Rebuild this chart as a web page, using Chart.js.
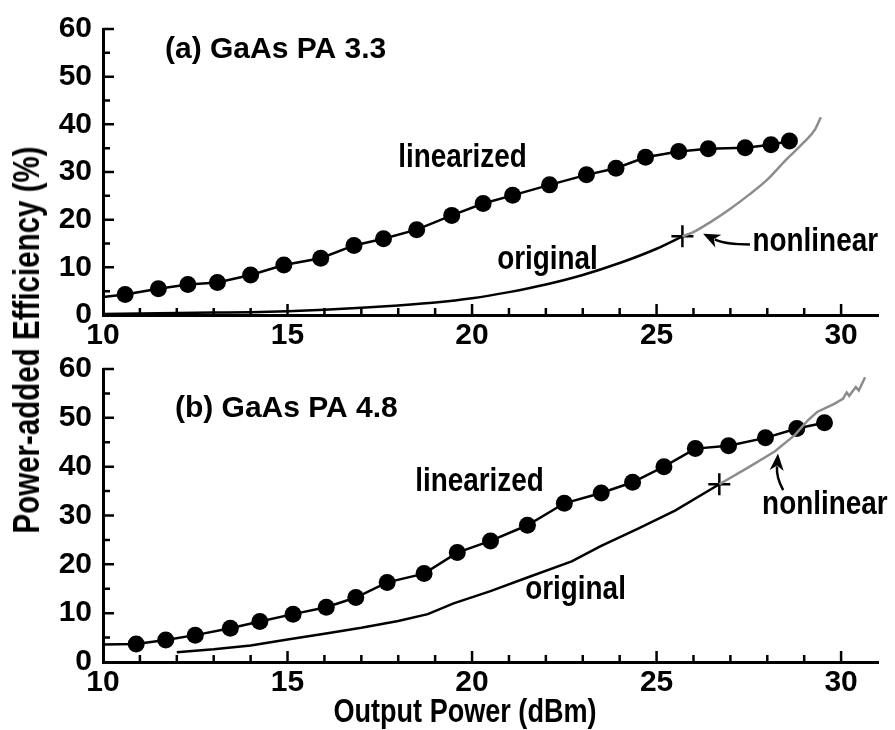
<!DOCTYPE html>
<html>
<head>
<meta charset="utf-8">
<script src="https://cdn.jsdelivr.net/npm/chart.js@4/dist/chart.umd.min.js"></script>
<style>
  body { margin: 0; background: #fff; }
  #wrap { position: relative; width: 895px; height: 730px; overflow: hidden; background: #fff; }
  canvas { position: absolute; left: 0; }
  #chartA { top: 0; }
  #chartB { top: 340px; }
  .axt { position: absolute; white-space: nowrap; color: #000;
         font-family: 'Liberation Sans', Arial, sans-serif; font-weight: bold; }
  /* the original uses a condensed face; squeeze the regular one along the text direction */
  #ytitle { left: 27px; top: 340px; font-size: 36px; line-height: 36px;
            transform: translate(-50%, -50%) rotate(-90deg) scaleX(0.82); }
  #xtitle { left: 465px; top: 694px; font-size: 33px; line-height: 33px;
            transform: translateX(-50%) scaleX(0.82); }
</style>
</head>
<body>
<div id="wrap">
  <canvas id="chartA" width="895" height="360"></canvas>
  <canvas id="chartB" width="895" height="390"></canvas>
  <div class="axt" id="ytitle">Power-added Efficiency (%)</div>
  <div class="axt" id="xtitle">Output Power (dBm)</div>
</div>
<script>
/* ── DATA ── */
// tick labels that carry text
const xLabelled = [10, 15, 20, 25, 30];
const yLabelled = [0, 10, 20, 30, 40, 50, 60];

// (a) GaAs PA 3.3
const aLinX  = [10, 10.6, 11.5, 12.3, 13.1, 14.0, 14.9, 15.9, 16.8, 17.6, 18.5, 19.45, 20.3, 21.1, 22.1, 23.1, 23.9, 24.7, 25.6, 26.4, 27.4, 28.1, 28.6];
const aLinY  = [3.8, 4.3, 5.5, 6.4, 6.8, 8.4, 10.5, 11.9, 14.6, 16.0, 17.9, 20.9, 23.4, 25.1, 27.3, 29.4, 30.8, 33.1, 34.3, 34.9, 35.1, 35.7, 36.5];
const aOrigX = [10, 11, 12, 13, 14, 15, 16, 17, 18, 19, 20, 21, 22, 23, 24, 25, 25.7];
const aOrigY = [0.2, 0.3, 0.4, 0.5, 0.6, 0.8, 1.1, 1.5, 2.0, 2.6, 3.5, 4.8, 6.4, 8.4, 10.9, 13.9, 16.5];
const aNonX  = [25.7, 26.0, 26.5, 27.0, 27.5, 28.0, 28.5, 29.0, 29.3, 29.45];
const aNonY  = [16.5, 17.4, 19.7, 22.3, 25.2, 28.4, 32.5, 36.3, 39.0, 41.5];
const aCross = [25.7, 16.5];

// (b) GaAs PA 4.8
const bLinX  = [10, 10.9, 11.7, 12.5, 13.45, 14.25, 15.15, 16.05, 16.85, 17.7, 18.7, 19.6, 20.5, 21.5, 22.5, 23.5, 24.35, 25.2, 26.05, 26.95, 27.95, 28.8, 29.55];
const bLinY  = [3.6, 3.7, 4.5, 5.5, 6.9, 8.3, 9.8, 11.2, 13.2, 16.3, 18.1, 22.4, 24.8, 28.0, 32.5, 34.6, 36.8, 40.0, 43.7, 44.3, 45.9, 47.8, 49.0];
const bOrigX = [12.0, 13.0, 14.0, 15.0, 16.0, 17.0, 18.0, 18.8, 19.5, 20.5, 21.5, 22.7, 23.5, 24.5, 25.5, 26.7];
const bOrigY = [2.0, 2.6, 3.4, 4.6, 5.8, 7.0, 8.4, 9.8, 12.0, 14.5, 17.3, 20.6, 23.8, 27.3, 31.0, 36.4];
const bNonX  = [26.7, 27.5, 28.2, 28.75, 29.1, 29.35, 29.8, 30.05, 30.15, 30.22, 30.4, 30.48, 30.65];
const bNonY  = [36.4, 39.9, 43.1, 46.5, 49.5, 51.2, 52.8, 53.9, 55.2, 54.5, 56.3, 55.6, 58.3];
const bCross = [26.7, 36.4];

/* ── STYLE ── */
const SANS = "'Liberation Sans', Arial, sans-serif";
const NOTE_FONT  = "bold 34px " + SANS;   // drawn squeezed to 82 %
const TITLE_FONT = "bold 30px " + SANS;
const GRAY = '#8c8c8c';

const pts = (xs, ys) => xs.map((x, i) => ({ x, y: ys[i] }));

/* ticks drawn inward, like the original plot */
const innerTicks = {
  id: 'innerTicks',
  afterDraw(chart) {
    const { ctx, chartArea: a, scales: { x, y } } = chart;
    ctx.save();
    ctx.strokeStyle = '#000';
    ctx.lineWidth = 2.5;
    ctx.beginPath();
    x.ticks.forEach(t => {
      if (t.value === x.min || t.value === x.max) return;
      const px = x.getPixelForValue(t.value);
      const len = t.value % 5 === 0 ? 11 : 7;
      ctx.moveTo(px, a.bottom);
      ctx.lineTo(px, a.bottom - len);
    });
    y.ticks.forEach(t => {
      if (t.value === y.min) return;
      const py = y.getPixelForValue(t.value);
      const len = t.value % 10 === 0 ? 11 : 7;
      ctx.moveTo(a.left, py);
      ctx.lineTo(a.left + len, py);
    });
    ctx.stroke();
    ctx.restore();
  }
};

/* text labels + curved arrows, placed in data units */
const notes = {
  id: 'notes',
  afterDraw(chart, args, opts) {
    const { ctx, scales: { x, y } } = chart;
    ctx.save();
    ctx.fillStyle = '#000';
    ctx.strokeStyle = '#000';
    ctx.textAlign = 'left';
    ctx.textBaseline = 'alphabetic';
    (opts.texts || []).forEach(n => {
      ctx.save();
      ctx.font = n.font;
      ctx.translate(x.getPixelForValue(n.x), y.getPixelForValue(n.y));
      ctx.scale(n.sx || 1, 1);
      ctx.fillText(n.text, 0, 0);
      ctx.restore();
    });
    (opts.arrows || []).forEach(ar => {
      const P = p => [x.getPixelForValue(p[0]), y.getPixelForValue(p[1])];
      const [tx, ty] = P(ar.tail), [cx, cy] = P(ar.ctrl), [hx, hy] = P(ar.tip);
      let dx = hx - cx, dy = hy - cy;
      const d = Math.hypot(dx, dy); dx /= d; dy /= d;
      const hl = 17, hw = 7;
      const bx = hx - dx * hl, by = hy - dy * hl;
      ctx.lineWidth = 2.5;
      ctx.beginPath();
      ctx.moveTo(tx, ty);
      ctx.quadraticCurveTo(cx, cy, bx + dx * 4, by + dy * 4);
      ctx.stroke();
      ctx.beginPath();
      ctx.moveTo(hx, hy);
      ctx.lineTo(bx - dy * hw, by + dx * hw);
      ctx.lineTo(bx + dx * 5, by + dy * 5);
      ctx.lineTo(bx + dy * hw, by - dx * hw);
      ctx.closePath();
      ctx.fill();
    });
    ctx.restore();
  }
};

function datasets(linX, linY, origX, origY, nonX, nonY, cross, smooth) {
  return [
    { label: 'nonlinear', data: pts(nonX, nonY), borderColor: GRAY, borderWidth: 2.5,
      pointRadius: 0, tension: 0, cubicInterpolationMode: smooth ? 'monotone' : 'default' },
    { label: 'onset', data: [{ x: cross[0], y: cross[1] }], showLine: false,
      pointStyle: 'cross', pointRadius: 11, borderColor: '#000', pointBorderWidth: 2.5 },
    { label: 'linearized', data: pts(linX, linY), borderColor: '#000', borderWidth: 2.5,
      pointRadius: c => c.dataIndex === 0 ? 0 : 8.5, pointBackgroundColor: '#000',
      pointBorderWidth: 0, tension: 0 },
    { label: 'original', data: pts(origX, origY), borderColor: '#000', borderWidth: 2.5,
      pointRadius: 0, tension: 0, cubicInterpolationMode: smooth ? 'monotone' : 'default' }
  ];
}

function panel(id, padTop, xHeight, sets, noteOpts) {
  const tickFont = { family: SANS, size: 30, weight: 'bold' };
  return new Chart(document.getElementById(id), {
    type: 'line',
    data: { datasets: sets },
    options: {
      responsive: false, animation: false,
      layout: { padding: { top: padTop, right: 17, left: 0, bottom: 0 } },
      plugins: { legend: { display: false }, tooltip: { enabled: false }, notes: noteOpts },
      scales: {
        x: {
          type: 'linear', min: 10, max: 31,
          ticks: { stepSize: 1, autoSkip: false, maxRotation: 0, color: '#000', font: tickFont, padding: 3,
                   callback: v => xLabelled.includes(v) ? String(v) : '' },
          grid: { display: false, drawTicks: false },
          border: { display: true, color: '#000', width: 3 },
          afterFit: s => { s.height = xHeight; }
        },
        y: {
          min: 0, max: 60,
          ticks: { stepSize: 5, autoSkip: false, color: '#000', font: tickFont, padding: 11,
                   callback: v => yLabelled.includes(v) ? String(v) : '' },
          grid: { display: false, drawTicks: false },
          border: { display: true, color: '#000', width: 3 },
          afterFit: s => { s.width = 103; }
        }
      }
    },
    plugins: [innerTicks, notes]
  });
}

panel('chartA', 23, 45,
  datasets(aLinX, aLinY, aOrigX, aOrigY, aNonX, aNonY, aCross, true),
  {
    texts: [
      { text: '(a) GaAs PA 3.3', x: 11.68, y: 54.0, font: TITLE_FONT },
      { text: 'linearized', x: 18.0, y: 31.0, font: NOTE_FONT, sx: 0.82 },
      { text: 'original', x: 20.68, y: 9.65, font: NOTE_FONT, sx: 0.82 },
      { text: 'nonlinear', x: 27.6, y: 13.4, font: NOTE_FONT, sx: 0.82 }
    ],
    arrows: [{ tail: [27.53, 14.8], ctrl: [26.86, 14.8], tip: [26.26, 17.05] }]
  });

panel('chartB', 27, 68,
  datasets(bLinX, bLinY, bOrigX, bOrigY, bNonX, bNonY, bCross, false),
  {
    texts: [
      { text: '(b) GaAs PA 4.8', x: 11.95, y: 50.2, font: TITLE_FONT },
      { text: 'linearized', x: 18.46, y: 35.0, font: NOTE_FONT, sx: 0.82 },
      { text: 'original', x: 21.44, y: 13.0, font: NOTE_FONT, sx: 0.82 },
      { text: 'nonlinear', x: 27.86, y: 30.3, font: NOTE_FONT, sx: 0.82 }
    ],
    arrows: [{ tail: [28.43, 35.2], ctrl: [28.24, 37.8], tip: [28.29, 42.7] }]
  });
</script>
</body>
</html>
